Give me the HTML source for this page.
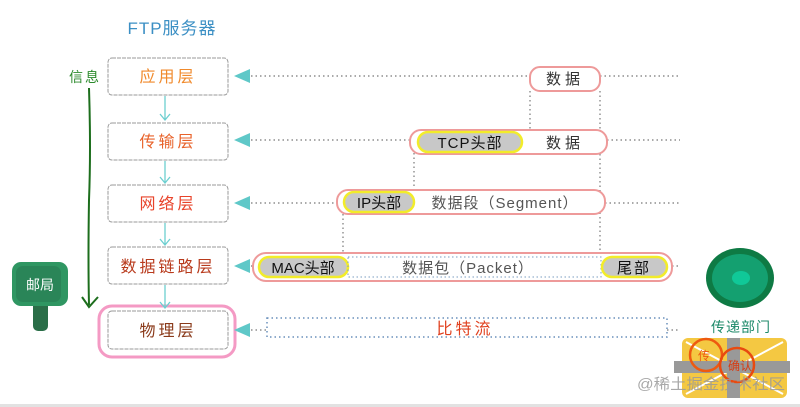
<!DOCTYPE html>
<html><head><meta charset="utf-8"><style>
html,body{margin:0;padding:0;background:#fff;}
svg{display:block;}
text{font-family:"Liberation Sans","Noto Sans CJK SC",sans-serif;}
</style></head><body>
<svg width="800" height="407" viewBox="0 0 800 407" xmlns="http://www.w3.org/2000/svg">
<rect x="0" y="404" width="800" height="3" fill="#e2e2e2"/>
<text x="172" y="34" font-size="17" fill="#3b8fc4" text-anchor="middle" letter-spacing="1">FTP服务器</text>
<text x="85" y="82" font-size="14" fill="#2c8a2c" text-anchor="middle" letter-spacing="2">信息</text>
<path d="M89 88 Q91 150 89 200 Q88 260 89 305" stroke="#1d6e1d" stroke-width="2" fill="none"/>
<path d="M82 297 L89 307 L98 297" stroke="#1d6e1d" stroke-width="2" fill="none"/>
<rect x="33" y="300" width="15" height="31" rx="5" fill="#2a6e48"/>
<rect x="12" y="262" width="56" height="44" rx="9" fill="#2f9662"/>
<rect x="16" y="266" width="45" height="36" rx="7" fill="#2a8558"/>
<text x="40" y="290" font-size="14" fill="#fff" text-anchor="middle">邮局</text>
<g fill="#fff" stroke="#999" stroke-width="1" stroke-dasharray="4 1">
<rect x="108" y="58" width="120" height="37" rx="4"/>
<rect x="108" y="123" width="120" height="37" rx="4"/>
<rect x="108" y="185" width="120" height="37" rx="4"/>
<rect x="108" y="247" width="120" height="37" rx="4"/>
<rect x="108" y="311" width="120" height="38" rx="4"/>
</g>
<rect x="99" y="306" width="136" height="51" rx="13" fill="none" stroke="#f49ac4" stroke-width="3"/>
<g font-size="16" text-anchor="middle" letter-spacing="3">
<text x="168" y="82" fill="#f08a2c">应用层</text>
<text x="168" y="147" fill="#e8622a">传输层</text>
<text x="168" y="209" fill="#e8432a">网络层</text>
<text x="168" y="272" fill="#b83a1c">数据链路层</text>
<text x="168" y="336" fill="#8a3a1a">物理层</text>
</g>
<g stroke="#6ccfd0" stroke-width="1.3" fill="none">
<path d="M165 96 V120 M160 114 L165 120 L170 114"/>
<path d="M165 161 V183 M160 177 L165 183 L170 177"/>
<path d="M165 223 V245 M160 239 L165 245 L170 239"/>
<path d="M165 285 V308 M160 302 L165 308 L170 302"/>
</g>
<g fill="#5fc8c8">
<polygon points="234,76 250,69 250,83"/>
<polygon points="234,140 250,133 250,147"/>
<polygon points="234,203 250,196 250,210"/>
<polygon points="234,266 250,259 250,273"/>
<polygon points="234,330 250,323 250,337"/>
</g>
<g stroke="#777" stroke-width="1.2" stroke-dasharray="1.5 3" fill="none">
<path d="M251 76 H530 M600 76 H680"/>
<path d="M251 140 H410 M607 140 H680"/>
<path d="M251 203 H337 M605 203 H680"/>
<path d="M251 266 H253 M672 266 H680"/>
<path d="M251 330 H266 M667 330 H680"/>
<path d="M530 91 V130 M600 91 V253 M414 153 V190 M343 214 V253"/>
</g>
<rect x="530" y="67" width="70" height="24" rx="10" fill="#fff" stroke="#ee9a9a" stroke-width="2"/>
<text x="565" y="84" font-size="15" fill="#333" text-anchor="middle" letter-spacing="4">数据</text>
<rect x="410" y="130" width="197" height="24" rx="11" fill="#fff" stroke="#ee9a9a" stroke-width="2"/>
<rect x="418" y="132" width="104" height="20" rx="10" fill="#c8c8c8" stroke="#f2ec2a" stroke-width="2.5"/>
<text x="470" y="148" font-size="15" fill="#111" text-anchor="middle" letter-spacing="1">TCP头部</text>
<text x="565" y="148" font-size="15" fill="#333" text-anchor="middle" letter-spacing="4">数据</text>
<rect x="337" y="190" width="268" height="24" rx="11" fill="#fff" stroke="#ee9a9a" stroke-width="2"/>
<rect x="344" y="192" width="70" height="20" rx="10" fill="#c8c8c8" stroke="#f2ec2a" stroke-width="2.5"/>
<text x="379" y="208" font-size="15" fill="#111" text-anchor="middle">IP头部</text>
<text x="505" y="208" font-size="15" fill="#555" text-anchor="middle" letter-spacing="1">数据段（Segment）</text>
<rect x="253" y="253" width="419" height="28" rx="13" fill="#fff" stroke="#ee9a9a" stroke-width="2"/>
<rect x="259" y="257" width="89" height="20" rx="10" fill="#c8c8c8" stroke="#f2ec2a" stroke-width="2.5"/>
<text x="303" y="273" font-size="15" fill="#111" text-anchor="middle">MAC头部</text>
<rect x="348" y="257" width="253" height="20" fill="none" stroke="#7a9cc0" stroke-width="1" stroke-dasharray="1.5 2.5"/>
<text x="468" y="273" font-size="15" fill="#555" text-anchor="middle" letter-spacing="1">数据包（Packet）</text>
<rect x="602" y="257" width="65" height="20" rx="10" fill="#c8c8c8" stroke="#f2ec2a" stroke-width="2.5"/>
<text x="634" y="273" font-size="15" fill="#111" text-anchor="middle" letter-spacing="2">尾部</text>
<rect x="267" y="318" width="400" height="19" fill="none" stroke="#6a90bc" stroke-width="1.5" stroke-dasharray="1.5 3"/>
<text x="465" y="334" font-size="16" fill="#e0401e" text-anchor="middle" letter-spacing="3">比特流</text>
<ellipse cx="740" cy="278" rx="34" ry="30" fill="#0e7a44"/>
<ellipse cx="740" cy="278" rx="28" ry="24" fill="#14a070"/>
<ellipse cx="741" cy="278" rx="9" ry="7" fill="#10c898"/>
<text x="741" y="332" font-size="14" fill="#1e8a6a" text-anchor="middle" letter-spacing="1">传递部门</text>
<rect x="682" y="338" width="105" height="60" rx="6" fill="#f4c842"/>
<path d="M686 342 L783 394 M783 342 L686 394" stroke="#fff" stroke-width="2"/>
<rect x="727" y="338" width="13" height="60" fill="#999"/>
<rect x="674" y="361" width="116" height="12" fill="#999"/>
<circle cx="706" cy="355" r="16" fill="none" stroke="#ee5a10" stroke-width="2.5"/>
<circle cx="737" cy="365" r="17" fill="none" stroke="#e84a10" stroke-width="2.5"/>
<text x="704" y="360" font-size="12" fill="#ee5a10" text-anchor="middle">传</text>
<text x="740" y="370" font-size="12" fill="#d83a10" text-anchor="middle">确认</text>
<text x="637" y="389" font-size="15" fill="#999" fill-opacity="0.85" textLength="148" lengthAdjust="spacingAndGlyphs">@稀土掘金技术社区</text>
</svg>
</body></html>
